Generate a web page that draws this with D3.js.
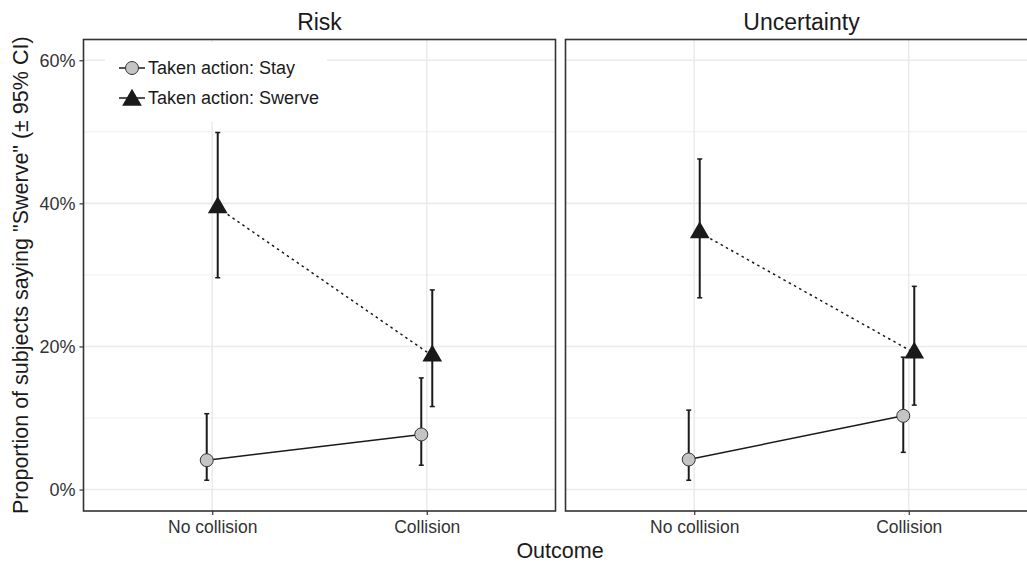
<!DOCTYPE html>
<html>
<head>
<meta charset="utf-8">
<script src="https://d3js.org/d3.v7.min.js"></script>
<style>
  body { margin: 0; background: #fff; }
  text { font-family: "Liberation Sans", Arial, sans-serif; }
</style>
</head>
<body>
<div id="chart"></div>
<script>
// facets and categories
const panels = ['Risk', 'Uncertainty'];
const outcomes = ['No collision', 'Collision'];
const actions = ['Taken action: Stay', 'Taken action: Swerve'];

// proportions saying "Swerve" (percent), per panel, per outcome
const stayMean  = [[4.1, 7.7], [4.2, 10.3]];
const stayLow   = [[1.3, 3.4], [1.3, 5.2]];
const stayHigh  = [[10.6, 15.6], [11.1, 18.5]];
const swerveMean = [[39.4, 18.7], [35.9, 19.1]];
const swerveLow  = [[29.6, 11.6], [26.8, 11.8]];
const swerveHigh = [[49.9, 27.9], [46.2, 28.4]];

const yTicks = [0, 20, 40, 60];
const yMinor = [10, 30, 50];

const W = 1027, H = 565;
const panelTop = 39.5, panelBottom = 511;
const panelLeft = [83.5, 565.5];
const panelW = 472;
const dodge = 5.5;

const svg = d3.select('#chart').append('svg')
  .attr('width', W).attr('height', H);

const y = d3.scaleLinear().domain([-3, 62.9]).range([panelBottom, panelTop]);

const series = [
  { name: actions[0], mean: stayMean, lo: stayLow, hi: stayHigh, off: -dodge, shape: 'circle', dash: null },
  { name: actions[1], mean: swerveMean, lo: swerveLow, hi: swerveHigh, off: dodge, shape: 'triangle', dash: '2.5,3.5' }
];

// triangle like R pch 17
function triPath(cx, cy) {
  const xc = 7.3;
  const r = 1.555 * xc, hx = 1.347 * xc, yc = 0.778 * xc;
  return `M${cx},${cy - r}L${cx + hx},${cy + yc}L${cx - hx},${cy + yc}Z`;
}

panels.forEach((p, pi) => {
  const x0 = panelLeft[pi];
  const x = d3.scalePoint().domain(outcomes).range([x0, x0 + panelW]).padding(0.6);
  const g = svg.append('g');

  // grid
  g.selectAll('.minor').data(yMinor).enter().append('line')
    .attr('x1', x0).attr('x2', x0 + panelW)
    .attr('y1', d => y(d)).attr('y2', d => y(d))
    .attr('stroke', '#ebebeb').attr('stroke-width', 0.8);
  g.selectAll('.major').data(yTicks).enter().append('line')
    .attr('x1', x0).attr('x2', x0 + panelW)
    .attr('y1', d => y(d)).attr('y2', d => y(d))
    .attr('stroke', '#ebebeb').attr('stroke-width', 1.6);
  g.selectAll('.vgrid').data(outcomes).enter().append('line')
    .attr('x1', d => x(d)).attr('x2', d => x(d))
    .attr('y1', panelTop).attr('y2', panelBottom)
    .attr('stroke', '#ebebeb').attr('stroke-width', 1.6);

  // legend box in first panel (covers the grid)
  if (pi === 0) {
    const lg = g.append('g');
    lg.append('rect').attr('x', 105).attr('y', 42).attr('width', 222).attr('height', 80)
      .attr('fill', '#fff');
    series.forEach((s, si) => {
      const ly = 68 + si * 30;
      lg.append('line').attr('x1', 119).attr('x2', 145).attr('y1', ly).attr('y2', ly)
        .attr('stroke', '#1a1a1a').attr('stroke-width', 1.5);
      if (s.shape === 'circle') {
        lg.append('circle').attr('cx', 132).attr('cy', ly).attr('r', 6.5)
          .attr('fill', '#c4c4c4').attr('stroke', '#333').attr('stroke-width', 1);
      } else {
        lg.append('path').attr('d', triPath(132, ly + 2)).attr('fill', '#1a1a1a');
      }
      lg.append('text').attr('x', 148).attr('y', ly).attr('dy', '0.35em')
        .attr('font-size', 18).attr('fill', '#1a1a1a').text(s.name);
    });
  }

  // lines, error bars, points
  series.forEach(s => {
    const pts = outcomes.map((o, oi) => ({
      x: x(o) + s.off, m: s.mean[pi][oi], lo: s.lo[pi][oi], hi: s.hi[pi][oi]
    }));
    g.append('path')
      .attr('d', d3.line().x(d => d.x).y(d => y(d.m))(pts))
      .attr('fill', 'none').attr('stroke', '#1a1a1a').attr('stroke-width', 1.5)
      .attr('stroke-dasharray', s.dash);
    const eb = g.selectAll(null).data(pts).enter().append('g');
    eb.append('line').attr('x1', d => d.x).attr('x2', d => d.x)
      .attr('y1', d => y(d.lo)).attr('y2', d => y(d.hi))
      .attr('stroke', '#1a1a1a').attr('stroke-width', 2);
    ['lo', 'hi'].forEach(k => {
      eb.append('line').attr('x1', d => d.x - 2.5).attr('x2', d => d.x + 2.5)
        .attr('y1', d => y(d[k])).attr('y2', d => y(d[k]))
        .attr('stroke', '#1a1a1a').attr('stroke-width', 1.5);
    });
    if (s.shape === 'circle') {
      g.selectAll(null).data(pts).enter().append('circle')
        .attr('cx', d => d.x).attr('cy', d => y(d.m)).attr('r', 6.5)
        .attr('fill', '#c4c4c4').attr('stroke', '#333').attr('stroke-width', 1);
    } else {
      g.selectAll(null).data(pts).enter().append('path')
        .attr('d', d => triPath(d.x, y(d.m))).attr('fill', '#1a1a1a');
    }
  });

  // border
  g.append('rect').attr('x', x0).attr('y', panelTop)
    .attr('width', panelW).attr('height', panelBottom - panelTop)
    .attr('fill', 'none').attr('stroke', '#333').attr('stroke-width', 1.6);

  // strip title
  svg.append('text').attr('x', x0 + panelW / 2).attr('y', 30)
    .attr('text-anchor', 'middle').attr('font-size', 23).attr('fill', '#1a1a1a').text(p);

  // x axis
  const xa = svg.append('g').attr('transform', `translate(0,${panelBottom})`)
    .call(d3.axisBottom(x).tickSize(4).tickPadding(6));
  xa.select('.domain').remove();
  xa.selectAll('line').attr('stroke', '#333').attr('stroke-width', 1.2);
  xa.selectAll('text').attr('font-size', 17.5).attr('fill', '#333')
    .style('font-family', '"Liberation Sans", Arial, sans-serif');
});

// y axis
const ya = svg.append('g').attr('transform', `translate(${panelLeft[0]},0)`)
  .call(d3.axisLeft(y).tickValues(yTicks).tickFormat(d => d + '%').tickSize(4).tickPadding(4));
ya.select('.domain').remove();
ya.selectAll('line').attr('stroke', '#333').attr('stroke-width', 1.2);
ya.selectAll('text').attr('font-size', 18).attr('fill', '#333')
  .style('font-family', '"Liberation Sans", Arial, sans-serif');

// axis titles
svg.append('text').attr('x', 560).attr('y', 558).attr('text-anchor', 'middle')
  .attr('font-size', 21.5).attr('fill', '#1a1a1a').text('Outcome');
svg.append('text').attr('transform', `translate(28,${(panelTop + panelBottom) / 2}) rotate(-90)`)
  .attr('text-anchor', 'middle').attr('font-size', 21.5).attr('fill', '#1a1a1a')
  .text('Proportion of subjects saying "Swerve" (\u00b1 95% CI)');
</script>
</body>
</html>
